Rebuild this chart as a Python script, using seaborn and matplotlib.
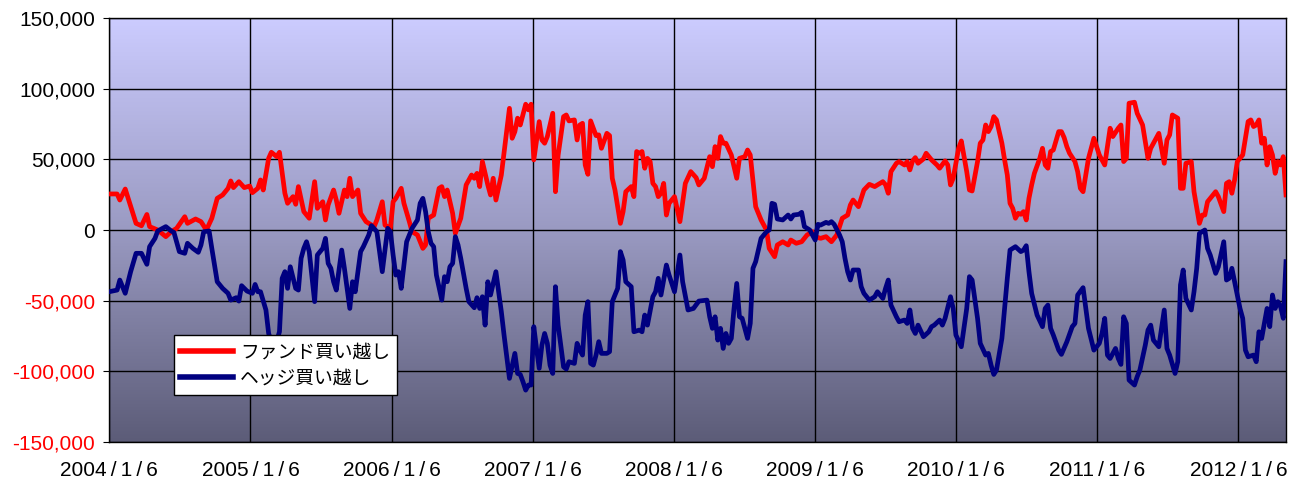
import numpy as np
import pandas as pd
import matplotlib
matplotlib.use("Agg")
import matplotlib.pyplot as plt
from matplotlib.colors import LinearSegmentedColormap
import seaborn as sns

# weeks counted from 2004/1/6
fund_weeks = [0, 3, 4, 6, 10, 12, 14, 15, 18, 21, 23, 25, 28, 29, 32, 34, 36, 38, 40, 42,
              44, 45, 46, 48, 50, 52, 53, 55, 56, 57, 59, 60, 62, 63, 65, 66, 68, 69, 70, 72,
              74, 76, 77, 79, 80, 81, 83, 84, 85, 87, 88, 89, 90, 92, 93, 95, 98, 99, 101, 102,
              104, 105, 106, 108, 109, 111, 112, 114, 116, 117, 118, 120, 122, 123, 124, 125, 127, 128, 130, 132,
              134, 135, 136, 137, 138, 140, 141, 142, 143, 145, 148, 149, 150, 151, 152, 154, 155, 156, 157, 159,
              160, 161, 162, 164, 165, 166, 168, 169, 170, 172, 173, 174, 175, 176, 177, 178, 179, 180, 181, 182,
              184, 185, 186, 187, 189, 190, 191, 193, 194, 195, 196, 197, 198, 199, 200, 201, 202, 203, 204, 205,
              206, 207, 209, 211, 213, 215, 217, 218, 220, 222, 223, 224, 225, 226, 227, 228, 230, 232, 233, 235,
              236, 237, 239, 241, 243, 244, 246, 247, 249, 251, 252, 254, 256, 258, 260, 261, 263, 265, 267, 269,
              271, 273, 274, 275, 277, 279, 281, 283, 284, 286, 287, 288, 289, 291, 292, 294, 295, 296, 297, 298,
              299, 301, 302, 304, 306, 307, 309, 310, 311, 312, 314, 315, 317, 318, 319, 321, 322, 323, 324, 325,
              326, 327, 328, 330, 331, 332, 333, 334, 335, 336, 337, 338, 339, 340, 341, 342, 344, 345, 346, 347,
              348, 349, 351, 352, 353, 354, 355, 357, 358, 359, 360, 362, 364, 366, 368, 369, 370, 371, 373, 374,
              375, 376, 377, 379, 380, 382, 384, 385, 388, 390, 391, 392, 393, 395, 396, 397, 398, 400, 401, 403,
              404, 405, 406, 409, 410, 412, 413, 414, 415, 416, 417, 419, 421, 422, 423, 424, 425, 426, 427, 428,
              429, 430, 431, 432, 433, 434, 435]
fund_values = [25500, 25500, 21200, 29000, 4700, 3000, 11000, 2400, 0, -4700, -1200, 1200, 9400, 4700, 7800, 5900, 0, 8300, 22400, 24800,
               29500, 34700, 30000, 34200, 30000, 31100, 26400, 29500, 35400, 28300, 50700, 55000, 51900, 55000, 26000, 18900, 23600, 18200, 30700, 13000,
               8300, 34200, 15300, 20000, 7100, 17700, 28300, 21200, 11800, 28300, 23600, 36600, 23600, 28300, 11800, 5900, 2400, 7100, 20000, 3500,
               1200, 20000, 22400, 29500, 18900, 5900, -1200, -3500, -13000, -10600, 8300, 10600, 29500, 30700, 23600, 28300, 11800, -2400, 8300, 31900,
               38900, 36600, 40100, 30700, 48400, 31900, 24800, 36600, 21200, 38900, 86100, 64900, 69600, 79100, 74300, 89000, 85000, 89000, 49600, 76700,
               63700, 61400, 66100, 82600, 27100, 53100, 80200, 81400, 77200, 77900, 63700, 74300, 75500, 46000, 39400, 77200, 72000, 66800, 67300, 57800,
               68400, 66800, 36600, 28300, 4700, 13000, 27100, 30700, 23600, 55500, 54300, 55500, 43700, 50700, 48400, 33000, 30700, 23600, 26000, 33000,
               10600, 18900, 23600, 5900, 33000, 41300, 37000, 31900, 36600, 51900, 44800, 59000, 50700, 66100, 61400, 61400, 53100, 36600, 50700, 51900,
               56600, 53100, 16500, 7100, 0, -13000, -18900, -10600, -8300, -10600, -7100, -9400, -8300, -3500, -1200, -4700, -5900, -4700, -8300, -3500,
               8300, 10600, 17700, 21200, 16500, 28300, 32300, 30700, 31900, 34200, 32000, 26000, 41300, 47200, 48400, 46000, 48400, 42500, 48900, 51200,
               47200, 50300, 54300, 49600, 46000, 43700, 48900, 46000, 31900, 36600, 57800, 63000, 41300, 28300, 27600, 48400, 61400, 63700, 74300, 69600,
               73200, 80200, 77900, 61400, 49600, 38900, 18900, 15300, 8300, 11800, 11100, 13000, 7100, 22400, 31900, 40100, 50700, 57800, 46000, 43700,
               55500, 56600, 69600, 69600, 65400, 59000, 54300, 48400, 41300, 29500, 27100, 50700, 64900, 53100, 46000, 59000, 72000, 66100, 72000, 74300,
               48400, 50700, 89700, 90400, 82600, 74300, 50700, 57800, 68400, 47200, 63700, 67300, 81400, 79100, 29500, 29500, 47200, 48400, 27100, 4700,
               10600, 10600, 20000, 27100, 23600, 13000, 33000, 34200, 26000, 35400, 48400, 53100, 76700, 77900, 73200, 74300, 77900, 61400, 64900, 46000,
               59000, 53100, 40100, 48400, 46000, 51900, 24800]

hedge_weeks = [0, 3, 4, 6, 8, 10, 12, 14, 15, 17, 18, 21, 23, 24, 26, 28, 29, 31, 33, 34,
               35, 37, 38, 40, 42, 44, 45, 47, 48, 49, 51, 53, 54, 55, 56, 58, 59, 61, 63, 64,
               65, 66, 67, 69, 70, 71, 72, 73, 74, 76, 77, 79, 80, 81, 82, 83, 84, 86, 87, 89,
               90, 91, 93, 94, 96, 97, 99, 101, 103, 104, 105, 106, 107, 108, 110, 111, 112, 114, 115, 116,
               117, 118, 119, 120, 121, 123, 124, 125, 126, 127, 128, 129, 130, 132, 133, 135, 136, 137, 138, 139,
               140, 141, 143, 145, 146, 148, 150, 151, 152, 153, 154, 155, 156, 157, 158, 159, 160, 161, 162, 163,
               164, 165, 166, 168, 169, 170, 172, 173, 174, 175, 176, 177, 178, 179, 180, 181, 182, 184, 185, 186,
               188, 189, 190, 191, 193, 194, 196, 197, 198, 199, 201, 202, 203, 204, 206, 207, 209, 211, 212, 214,
               216, 218, 221, 222, 223, 224, 225, 226, 227, 228, 229, 230, 231, 232, 233, 234, 236, 237, 238, 239,
               241, 243, 244, 245, 246, 247, 249, 251, 252, 253, 255, 256, 257, 259, 260, 261, 262, 263, 265, 266,
               267, 268, 270, 271, 272, 273, 274, 275, 277, 278, 279, 281, 283, 284, 286, 287, 288, 289, 291, 292,
               294, 295, 296, 297, 298, 299, 301, 303, 304, 305, 307, 308, 309, 311, 312, 313, 315, 317, 318, 319,
               321, 322, 324, 325, 326, 327, 328, 330, 331, 332, 333, 335, 337, 338, 339, 340, 341, 343, 345, 346,
               347, 348, 349, 351, 352, 354, 356, 357, 358, 360, 362, 364, 366, 367, 368, 369, 370, 372, 373, 374,
               375, 376, 377, 379, 380, 381, 383, 384, 385, 386, 388, 390, 391, 392, 394, 395, 396, 397, 398, 400,
               401, 402, 403, 404, 405, 406, 407, 409, 410, 412, 413, 414, 415, 418, 419, 420, 421, 423, 424, 425,
               426, 428, 429, 430, 431, 432, 433, 434, 435]
hedge_values = [-43700, -42500, -35400, -44800, -29500, -16500, -16500, -24300, -11800, -5900, -700, 2400, -700, -1700, -15300, -16500, -9400, -13000, -15800, -10600,
                -1200, -700, -13000, -36600, -41300, -44800, -49600, -47900, -50300, -39400, -43200, -44800, -38500, -43700, -43700, -56600, -73200, -85000, -72000, -34200,
                -29500, -41300, -26000, -41300, -42500, -20000, -13000, -8300, -15300, -50700, -17700, -13000, -5900, -23600, -27100, -36600, -42500, -14200, -27100, -55500,
                -36600, -43700, -15300, -11800, -3500, 3100, -1200, -29500, 1200, -1200, -17700, -31900, -29500, -41300, -8300, -3500, 1200, 7100, 18900, 22400,
                13000, -1200, -9400, -11800, -31900, -49600, -33000, -36600, -26000, -23600, -4700, -10600, -20000, -41300, -50700, -55000, -47900, -55500, -47200, -67300,
                -36600, -46000, -29500, -57800, -74300, -105000, -87300, -101500, -102200, -107400, -113300, -109700, -109700, -68400, -83800, -97900, -81400, -73200, -80200, -95600,
                -101500, -40100, -67300, -96800, -98400, -93200, -94400, -80200, -85000, -88500, -60200, -50700, -94400, -95600, -88500, -79000, -87300, -87300, -86100, -50700,
                -41300, -15300, -21200, -36600, -40100, -72000, -70800, -72000, -60200, -67300, -47200, -43700, -34200, -46000, -24800, -31900, -43700, -17700, -36600, -56600,
                -55500, -50300, -49600, -61400, -69600, -61400, -77900, -69600, -83800, -73200, -80200, -76700, -55500, -37800, -61400, -62500, -76700, -66100, -27100, -22400,
                -5900, -1200, 0, 18900, 18200, 7800, 7100, 10600, 7800, 10600, 11100, 12500, 2400, 0, -3500, -7100, 4000, 3500, 5400, 4700,
                5900, 4000, -3500, -8300, -20000, -29500, -35400, -28300, -28300, -40100, -44800, -49600, -47200, -43700, -48400, -41300, -35400, -53100, -61400, -64900,
                -63700, -66100, -56600, -69600, -73200, -67300, -75500, -72000, -68400, -67300, -63700, -67300, -62500, -47200, -55500, -74300, -82600, -55500, -33000, -35400,
                -62500, -80200, -88500, -87300, -95600, -102200, -99100, -76700, -55500, -34200, -14200, -11800, -15300, -14200, -11100, -29500, -44800, -60200, -68400, -55500,
                -53100, -69600, -74300, -85000, -88000, -79100, -68400, -66100, -46000, -40800, -69600, -85000, -80200, -73200, -62500, -88500, -90900, -83800, -90900, -95100,
                -61400, -66100, -106200, -109700, -103800, -99100, -81400, -70800, -67300, -77900, -82600, -56600, -83800, -88500, -101500, -93200, -38900, -28300, -48400, -56600,
                -43700, -27100, -2400, -1200, 0, -13000, -17700, -30700, -26000, -8300, -35400, -34200, -27100, -55500, -62500, -85000, -89700, -88500, -93200, -72000,
                -76700, -55500, -68400, -46000, -55500, -50700, -54300, -62500, -22400]

labels = ["ファンド買い越し", "ヘッジ買い越し"]
colors = ["#FF0000", "#000080"]
year_ticks = list(range(2004, 2013))

start = pd.Timestamp("2004-01-06")
df = pd.concat([
    pd.DataFrame({"date": start + pd.to_timedelta(np.array(fund_weeks) * 7, unit="D"),
                  "value": fund_values, "series": labels[0]}),
    pd.DataFrame({"date": start + pd.to_timedelta(np.array(hedge_weeks) * 7, unit="D"),
                  "value": hedge_values, "series": labels[1]}),
])

plt.rcParams["font.family"] = ["Liberation Sans", "Noto Sans CJK JP", "DejaVu Sans"]

fig = plt.figure(figsize=(12.94, 4.86), dpi=100)
ax = fig.add_axes([109 / 1294, 1 - 442 / 486, 1177 / 1294, 424 / 486])

# gradient background
cmap = LinearSegmentedColormap.from_list("bg", ["#CCCCFF", "#9A9AC2", "#5C5C78"])
grad = np.linspace(0, 1, 256).reshape(-1, 1)
ax.imshow(grad, cmap=cmap, aspect="auto", extent=[0, 1, 0, 1],
          transform=ax.transAxes, zorder=0)

sns.lineplot(data=df, x="date", y="value", hue="series", palette=colors,
             linewidth=3.4, ax=ax, zorder=3, estimator=None, sort=False)

ax.set_xlim(df["date"].min(), df["date"].max())
ax.set_ylim(-150000, 150000)
yt = list(range(-150000, 150001, 50000))
ax.set_yticks(yt)
ax.set_yticklabels([f"{v:,}" for v in yt])
for t, v in zip(ax.get_yticklabels(), yt):
    t.set_color("#FF0000" if v < 0 else "black")

xt = [pd.Timestamp(f"{y}-01-06") for y in year_ticks]
ax.set_xticks(xt)
ax.set_xticklabels([f"{y}\u2009/\u20091\u2009/\u20096" for y in year_ticks])
ax.tick_params(axis="y", labelsize=15, length=4, direction="out", pad=6)
ax.tick_params(axis="x", labelsize=15, length=0, pad=14)
ax.set_xlabel("")
ax.set_ylabel("")

ax.grid(True, color="black", linewidth=1)
ax.set_axisbelow(True)
for s in ax.spines.values():
    s.set_color("black")
    s.set_linewidth(1)

leg = ax.legend(loc="lower left", bbox_to_anchor=(0.055, 0.111), borderaxespad=0,
                frameon=True, fancybox=False, edgecolor="black", framealpha=1,
                handlelength=2.8, borderpad=0.35, labelspacing=0.25, handletextpad=0.4,
                prop={"family": ["Noto Sans CJK JP", "DejaVu Sans"], "size": 13.5})
leg.set_zorder(5)
for line in leg.get_lines():
    line.set_linewidth(4)

fig.savefig("out.png", dpi=100)
